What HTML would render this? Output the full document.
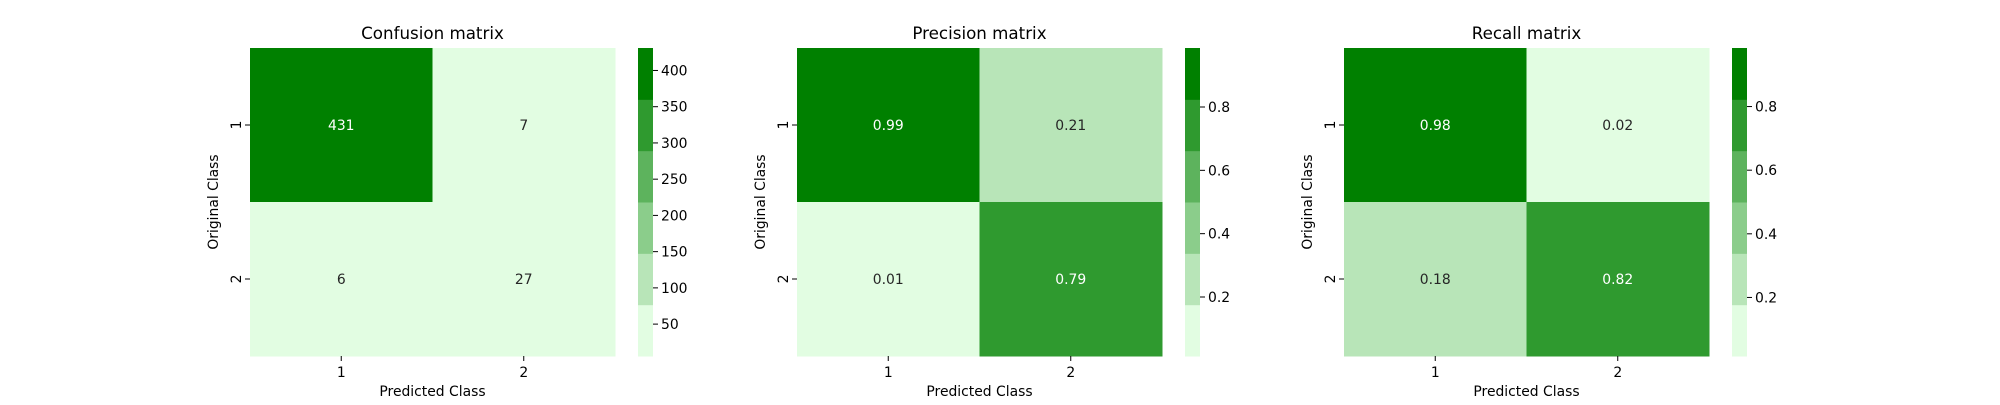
<!DOCTYPE html>
<html><head><meta charset="utf-8"><style>
body{margin:0;background:#fff;}
svg text{font-family:"DejaVu Sans","Liberation Sans",sans-serif;}
</style></head><body>
<svg id="chart" width="2000" height="400" viewBox="0 0 2000 400" xmlns="http://www.w3.org/2000/svg"></svg>
<script>
const classes = ["1","2"];
const titles = ["Confusion matrix","Precision matrix","Recall matrix"];
const confusionValues = [[431,7],[6,27]];
const precisionValues = [[431/437,7/34],[6/437,27/34]];
const recallValues = [[431/438,7/438],[6/33,27/33]];
const confusionLabels = [["431","7"],["6","27"]];
const precisionLabels = [["0.99","0.21"],["0.01","0.79"]];
const recallLabels = [["0.98","0.02"],["0.18","0.82"]];
const confusionTicks = [50,100,150,200,250,300,350,400];
const ratioTicks = [0.2,0.4,0.6,0.8];
const confusionTickLabels = ["50","100","150","200","250","300","350","400"];
const ratioTickLabels = ["0.2","0.4","0.6","0.8"];

const palette = ["#e2fde2","#b8e5b8","#8bcd8b","#5db35d","#2f9a2f","#008000"];
const NS="http://www.w3.org/2000/svg";
const svgEl=document.getElementById('chart');
function mk(tag,attrs,parent){const e=document.createElementNS(NS,tag);for(const k in attrs)e.setAttribute(k,attrs[k]);(parent||svgEl).appendChild(e);return e;}

const panels=[
 {x:250,cb:638,vals:confusionValues,labs:confusionLabels,ticks:confusionTicks,tl:confusionTickLabels,name:'confusion'},
 {x:797,cb:1185,vals:precisionValues,labs:precisionLabels,ticks:ratioTicks,tl:ratioTickLabels,name:'precision'},
 {x:1344,cb:1732,vals:recallValues,labs:recallLabels,ticks:ratioTicks,tl:ratioTickLabels,name:'recall'}
];
const topY=48,H=308,W=365,cbW=15;
panels.forEach((p,pi)=>{
  const g=mk('g',{});
  
  
  const flat=p.vals.flat();
  const vmin=Math.min(...flat),vmax=Math.max(...flat);
  const ci=v=>Math.max(0,Math.min(5,Math.floor((v-vmin)/(vmax-vmin)*6)));
  const cw=W/classes.length,ch=H/classes.length;
  const xs=j=>p.x+j*cw, ys=i=>topY+i*ch;
  p.vals.forEach((row,i)=>row.forEach((v,j)=>{
    const c=ci(v);
    const r=mk('rect',{x:xs(j),y:ys(i),width:cw+0.5,height:ch+0.5,fill:palette[c]},g);
    
    
    const t=mk('text',{x:xs(j)+cw/2,y:ys(i)+ch/2+5,'text-anchor':'middle','font-size':'13.9',fill:c>=3?'#fff':'#262626'},g);
    t.textContent=p.labs[i][j];
    
    
  }));
  const tt=mk('text',{x:p.x+W/2,y:39,'text-anchor':'middle','font-size':'16.7',fill:'#000'},g);
  tt.textContent=titles[pi];
  
  
  classes.forEach((c,k)=>{
    const cx=xs(k)+cw/2;
    mk('line',{x1:cx,y1:topY+H,x2:cx,y2:topY+H+5,stroke:'#000','stroke-width':1},g);
    const xt=mk('text',{x:cx,y:topY+H+21,'text-anchor':'middle','font-size':'13.9',fill:'#000'},g);
    xt.textContent=c;
    
    
    const cy=ys(k)+ch/2;
    mk('line',{x1:p.x-5,y1:cy,x2:p.x,y2:cy,stroke:'#000','stroke-width':1},g);
    const yt=mk('text',{x:0,y:0,'text-anchor':'middle','font-size':'13.9',fill:'#000',transform:`translate(${p.x-9},${cy}) rotate(-90)`},g);
    yt.textContent=c;
    
    
  });
  const xl=mk('text',{x:p.x+W/2,y:396,'text-anchor':'middle','font-size':'13.9',fill:'#000'},g);
  xl.textContent='Predicted Class';
  
  
  const yl=mk('text',{x:0,y:0,'text-anchor':'middle','font-size':'13.9',fill:'#000',transform:`translate(${p.x-32},${topY+H/2}) rotate(-90)`},g);
  yl.textContent='Original Class';
  
  
  const cbg=mk('g',{},g);
  
  
  const bh=H/6;
  for(let b=0;b<6;b++){
    mk('rect',{x:p.cb,y:topY+H-(b+1)*bh,width:cbW,height:bh+0.5,fill:palette[b]},cbg);
  }
  const cyf=v=>topY+H-(v-vmin)/(vmax-vmin)*H;
  p.ticks.forEach((v,k)=>{
    const y=cyf(v);
    mk('line',{x1:p.cb+cbW,y1:y,x2:p.cb+cbW+5,y2:y,stroke:'#000','stroke-width':1},cbg);
    const t=mk('text',{x:p.cb+cbW+8,y:y+5,'font-size':'13.9',fill:'#000'},cbg);
    t.textContent=p.tl[k];
    
    
  });
});
</script>
</body></html>
